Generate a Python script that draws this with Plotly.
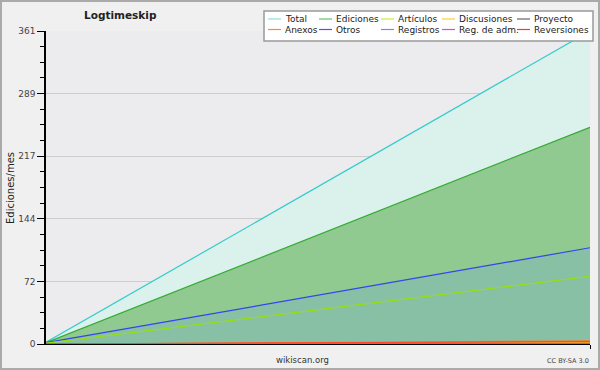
import plotly.graph_objects as go

# ---- data ----
months = [0, 1]
total = [2, 361]
ediciones = [1.5, 250]
registros = [1.5, 111]
articulos = [1, 78]
anexos = [0, 3.5]
reversiones = [0, 2.5]
discusiones = [0, 1]
proyecto = [0, 0]
otros = [0, 0]
reg_adm = [0, 0]

ytick_vals = [0, 72.2, 144.4, 216.6, 288.8, 361]
ytick_text = ["0", "72", "144", "217", "289", "361"]

legend_names = ["Total", "Ediciones", "Artículos", "Discusiones", "Proyecto",
                "Anexos", "Otros", "Registros", "Reg. de adm.", "Reversiones"]
legend_colors = ["#8ee0e0", "#66c466", "#c8ee33", "#ffcc33", "#666666",
                 "#ff8833", "#8833ee", "#7788ff", "#dd44ee", "#ff3333"]

W, H = 600, 370
ML, MR, MT, MB = 46, 10, 31, 26
PW, PH = W - ML - MR, H - MT - MB


def px(x):
    return (x - ML) / PW


def py(y):
    return (H - MB - y) / PH


fig = go.Figure()

# filled areas
fig.add_trace(go.Scatter(x=months, y=total, mode="lines", line=dict(color="#33cccc", width=1.2),
                         fill="tozeroy", fillcolor="#dbf1eb", showlegend=False))
fig.add_trace(go.Scatter(x=months, y=ediciones, mode="lines", line=dict(color="#33aa33", width=1.2),
                         fill="tozeroy", fillcolor="#90ca90", showlegend=False))
fig.add_trace(go.Scatter(x=months, y=registros, mode="lines", line=dict(color="#3344ee", width=1.2),
                         fill="tozeroy", fillcolor="#88c0a5", showlegend=False))
fig.add_trace(go.Scatter(x=months, y=articulos, mode="lines", line=dict(color="#99dd11", width=1.2),
                         showlegend=False))
fig.add_trace(go.Scatter(x=months, y=anexos, mode="lines", line=dict(color="#ff7722", width=1.2),
                         fill="tozeroy", fillcolor="#c8a878", showlegend=False))
for ys, c in [(reversiones, "#ff3333"), (discusiones, "#ffcc00"),
              (proyecto, "#666666"), (otros, "#8833ee"), (reg_adm, "#dd44ee")]:
    fig.add_trace(go.Scatter(x=months, y=ys, mode="lines", line=dict(color=c, width=1.2),
                             showlegend=False))

fig.update_layout(
    width=W, height=H,
    margin=dict(l=ML, r=MR, t=MT, b=MB),
    paper_bgcolor="#f0f0f0", plot_bgcolor="#ececee",
    font=dict(family="DejaVu Sans", size=9, color="#333333"),
    showlegend=False,
    xaxis=dict(range=[0, 1], showgrid=False, zeroline=False, showline=True, automargin=False,
               linecolor="#000000", linewidth=1, tickvals=[1], ticktext=[""],
               ticks="outside", ticklen=4, tickcolor="#000000"),
    yaxis=dict(range=[0, 361], tickvals=ytick_vals, ticktext=ytick_text, showgrid=True,
               automargin=False,
               gridcolor="#cdcdcd", zeroline=False, showline=True, linecolor="#000000",
               linewidth=1.5, ticks="outside", ticklen=7, tickcolor="#000000",
               tickfont=dict(size=9, color="#444444"),
               minor=dict(tickvals=[i * 361 / 20 for i in range(21)], ticks="outside",
                          ticklen=4, tickcolor="#000000", showgrid=False)),
)

# title
fig.add_annotation(text="<b>Logtimeskip</b>", xref="paper", yref="paper", x=px(120), y=py(15),
                   xanchor="center", yanchor="middle", showarrow=False,
                   font=dict(size=10.5, color="#222222"))
# y-axis title
fig.add_annotation(text="Ediciones/mes", xref="paper", yref="paper", x=px(10), y=py(188),
                   xanchor="center", yanchor="middle", showarrow=False, textangle=-90,
                   font=dict(size=10, color="#222222"))
fig.add_annotation(text="wikiscan.org", xref="paper", yref="paper", x=px(302), y=py(360),
                   xanchor="center", yanchor="middle", showarrow=False,
                   font=dict(size=8.5, color="#333333"))
fig.add_annotation(text="CC BY-SA 3.0", xref="paper", yref="paper", x=px(591), y=py(361),
                   xanchor="right", yanchor="middle", showarrow=False,
                   font=dict(size=6.5, color="#444444"))

# legend (manual, compact)
fig.add_shape(type="rect", xref="paper", yref="paper", x0=px(264), x1=px(593), y0=py(41), y1=py(11),
              fillcolor="#ffffff", line=dict(color="#999999", width=1.5), layer="above")
col_x = [268, 319, 381, 442, 517]
row_y = [19, 29.5]
for i, (n, c) in enumerate(zip(legend_names, legend_colors)):
    r, k = divmod(i, 5)
    x0 = col_x[k]
    y0 = row_y[r]
    fig.add_shape(type="line", xref="paper", yref="paper", x0=px(x0), x1=px(x0 + 13),
                  y0=py(y0), y1=py(y0), line=dict(color=c, width=1.2), layer="above")
    fig.add_annotation(text=n, xref="paper", yref="paper", x=px(x0 + 15), y=py(y0),
                       xanchor="left", yanchor="middle", showarrow=False,
                       font=dict(size=9, color="#222222"))

# outer border
fig.add_shape(type="rect", xref="paper", yref="paper",
              x0=px(1), x1=px(599), y0=py(369), y1=py(1),
              line=dict(color="#aaaaaa", width=2), layer="above")

fig.write_html("out.html", config={"displayModeBar": False},
               post_script="document.body.style.margin='0';document.body.style.overflow='hidden';")
